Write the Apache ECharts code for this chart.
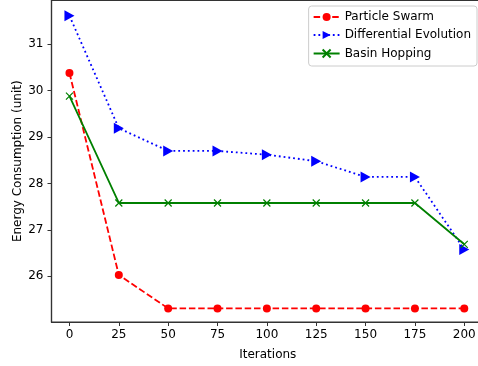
<!DOCTYPE html>
<html>
<head>
<meta charset="utf-8">
<script src="https://cdn.jsdelivr.net/npm/echarts@6/dist/echarts.min.js"></script>
<style>html,body{margin:0;padding:0;background:#fff;width:478px;height:366px;overflow:hidden;}#c{width:490px;height:366px;}</style>
</head>
<body>
<div id="c"></div>
<script>
const iterations = [0, 25, 50, 75, 100, 125, 150, 175, 200];
const particleSwarm = [30.38, 26.03, 25.31, 25.31, 25.31, 25.31, 25.31, 25.31, 25.31];
const differentialEvolution = [31.61, 29.19, 28.70, 28.70, 28.62, 28.48, 28.14, 28.14, 26.58];
const basinHopping = [29.88, 27.58, 27.58, 27.58, 27.58, 27.58, 27.58, 27.58, 26.69];
const xTicks = [0, 25, 50, 75, 100, 125, 150, 175, 200];
const yTicks = [26, 27, 28, 29, 30, 31];

const font = 'DejaVu Sans';
const pair = (ys) => iterations.map((x, i) => [x, ys[i]]);

const chart = echarts.init(document.getElementById('c'), null, {renderer: 'canvas'});
chart.setOption({
  animation: false,
  textStyle: {fontFamily: font},
  grid: {left: 51.5, right: 6, top: 0.5, bottom: 44, containLabel: false, outerBoundsMode: 'none', show: true, borderColor: '#333', borderWidth: 1.2},
  legend: {
    right: 13, top: 6, orient: 'vertical', itemGap: 6, itemWidth: 26, itemHeight: 10,
    padding: [5, 6, 6, 4],
    backgroundColor: 'rgba(255,255,255,0.8)', borderColor: '#ccc', borderWidth: 1, borderRadius: 3,
    textStyle: {fontFamily: font, fontSize: 12, color: '#000'},
    data: ['Particle Swarm', 'Differential Evolution', 'Basin Hopping']
  },
  xAxis: {
    type: 'value', min: -9.1, max: 210,
    name: 'Iterations', nameLocation: 'middle', nameGap: 27, nameMoveOverlap: false,
    nameTextStyle: {fontFamily: font, fontSize: 12, color: '#000'},
    axisLine: {show: true, onZero: false, lineStyle: {color: '#333', width: 1.2}},
    axisTick: {show: true, length: 4, customValues: xTicks, lineStyle: {color: '#333'}},
    axisLabel: {customValues: xTicks, fontFamily: font, fontSize: 12, color: '#000', margin: 7},
    splitLine: {show: false}
  },
  yAxis: {
    type: 'value', min: 25.017, max: 31.94,
    name: 'Energy Consumption (unit)', nameLocation: 'middle', nameGap: 28, nameMoveOverlap: false,
    nameTextStyle: {fontFamily: font, fontSize: 12, color: '#000'},
    axisLine: {show: true, onZero: false, lineStyle: {color: '#333', width: 1.2}},
    axisTick: {show: true, length: 4, customValues: yTicks, lineStyle: {color: '#333'}},
    axisLabel: {customValues: yTicks, fontFamily: font, fontSize: 12, color: '#000', margin: 8},
    splitLine: {show: false}
  },
  series: [
    {
      name: 'Particle Swarm', type: 'line', data: pair(particleSwarm),
      symbol: 'circle', symbolSize: 8,
      lineStyle: {color: '#ff0000', width: 1.8, type: [6.5, 2.8]},
      itemStyle: {color: '#ff0000'}
    },
    {
      name: 'Differential Evolution', type: 'line', data: pair(differentialEvolution),
      symbol: 'path://M0,0L10,5L0,10Z', symbolSize: [10, 11],
      lineStyle: {color: '#0000ff', width: 1.8, type: [1.8, 3]},
      itemStyle: {color: '#0000ff'}
    },
    {
      name: 'Basin Hopping', type: 'line', data: pair(basinHopping),
      symbol: 'path://M0,0L10,10M10,0L0,10', symbolSize: 7,
      lineStyle: {color: '#008000', width: 1.8},
      itemStyle: {color: 'none', borderColor: '#008000', borderWidth: 1.2}
    }
  ]
});
</script>
</body>
</html>
